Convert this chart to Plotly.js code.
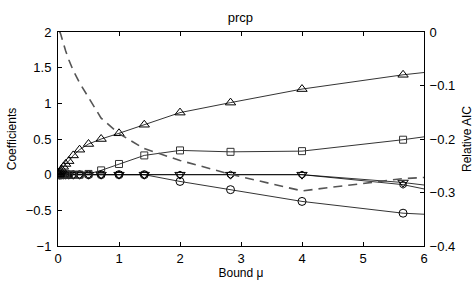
<!DOCTYPE html>
<html>
<head>
<meta charset="utf-8">
<script src="https://cdn.plot.ly/plotly-3.0.1.min.js"></script>
<style>html,body{margin:0;padding:0;background:#fff;}#chart{width:474px;height:286px;}</style>
</head>
<body>
<div id="chart"></div>
<script>
const bounds = [0.015625, 0.0221, 0.03125, 0.0442, 0.0625, 0.0884, 0.125, 0.1768, 0.25, 0.3536, 0.5, 0.7071, 1, 1.4142, 2, 2.8284, 4, 5.6569, 8];
const coefTriUp   = [0.0, 0.01, 0.03, 0.05, 0.07, 0.11, 0.15, 0.19, 0.27, 0.35, 0.43, 0.50, 0.58, 0.70, 0.87, 1.01, 1.20, 1.40, 1.62];
const coefSquare  = [0, 0, 0, 0, 0, 0, 0, 0, 0, 0, 0.01, 0.06, 0.15, 0.27, 0.34, 0.32, 0.33, 0.49, 0.765];
const coefCircle  = [0, 0, 0, 0, 0, 0, 0, 0, 0, 0, 0, 0, 0, 0, -0.095, -0.21, -0.375, -0.54, -0.64];
const coefTriDown = [0, 0, 0, 0, 0, 0, 0, 0, 0, 0, 0, 0, 0, 0, 0, 0, 0, -0.11, -0.35];
const coefHex     = [0, 0, 0, 0, 0, 0, 0, 0, 0, 0, 0, 0, 0, 0, 0, 0, 0, -0.14, -0.55];
const relAIC      = [0.0, 0.0, 0.0, -0.004, -0.012, -0.022, -0.035, -0.052, -0.072, -0.095, -0.122, -0.161, -0.19, -0.218, -0.24, -0.266, -0.297, -0.274, -0.26];

function coefTrace(y, sym, size, col) {
  return {
    x: bounds, y: y, type: 'scatter', mode: 'lines+markers',
    line: {color: '#000', width: 0.8},
    marker: {symbol: sym, size: size, color: 'rgba(255,255,255,0)', line: {color: col, width: 1}},
    showlegend: false, xaxis: 'x', yaxis: 'y'
  };
}

const traces = [
  coefTrace(coefCircle, 'circle', 8, '#000'),
  coefTrace(coefHex, 'hexagon', 7, '#000'),
  coefTrace(coefTriDown, 'triangle-down', 9, '#000'),
  coefTrace(coefSquare, 'square', 7, '#333'),
  coefTrace(coefTriUp, 'triangle-up', 9, '#000'),
  {
    x: bounds, y: relAIC, type: 'scatter', mode: 'lines',
    line: {color: '#555', width: 1.6, dash: '9px,6px'},
    showlegend: false, xaxis: 'x', yaxis: 'y2'
  }
];

const fam = 'Liberation Sans, Arial, sans-serif';
const tickFont = {family: fam, size: 13, color: '#000'};
const titleFont = {family: fam, size: 12, color: '#000'};

const layout = {
  width: 474, height: 286,
  margin: {l: 58, r: 50, t: 32, b: 40, pad: 0},
  paper_bgcolor: '#fff', plot_bgcolor: '#fff',
  font: titleFont,
  title: {text: 'prcp', font: {family: fam, size: 13, color: '#000'}, x: 0.507, xanchor: 'center', y: 0.94, yanchor: 'middle'},
  xaxis: {
    range: [0, 6], dtick: 1, tick0: 0,
    showgrid: false, zeroline: false,
    showline: true, linecolor: '#000', linewidth: 1, mirror: 'ticks',
    ticks: 'inside', ticklen: 4, tickcolor: '#000', tickwidth: 1,
    tickfont: tickFont,
    title: {text: 'Bound μ', font: titleFont, standoff: 2}
  },
  yaxis: {
    range: [-1, 2], dtick: 0.5, tick0: 0,
    showgrid: false, zeroline: false,
    showline: true, linecolor: '#000', linewidth: 1,
    ticks: 'inside', ticklen: 4, tickcolor: '#000', tickwidth: 1,
    tickfont: tickFont, ticklabelstandoff: 3,
    title: {text: 'Coefficients', font: titleFont, standoff: 6}
  },
  yaxis2: {
    range: [-0.4, 0], dtick: 0.1, tick0: 0,
    overlaying: 'y', side: 'right',
    showgrid: false, zeroline: false,
    showline: true, linecolor: '#000', linewidth: 1,
    ticks: 'inside', ticklen: 4, tickcolor: '#000', tickwidth: 1,
    tickfont: tickFont, ticklabelstandoff: 2,
    title: {text: 'Relative AIC', font: titleFont, standoff: 8}
  }
};

Plotly.newPlot('chart', traces, layout, {displayModeBar: false, staticPlot: true});
</script>
</body>
</html>
